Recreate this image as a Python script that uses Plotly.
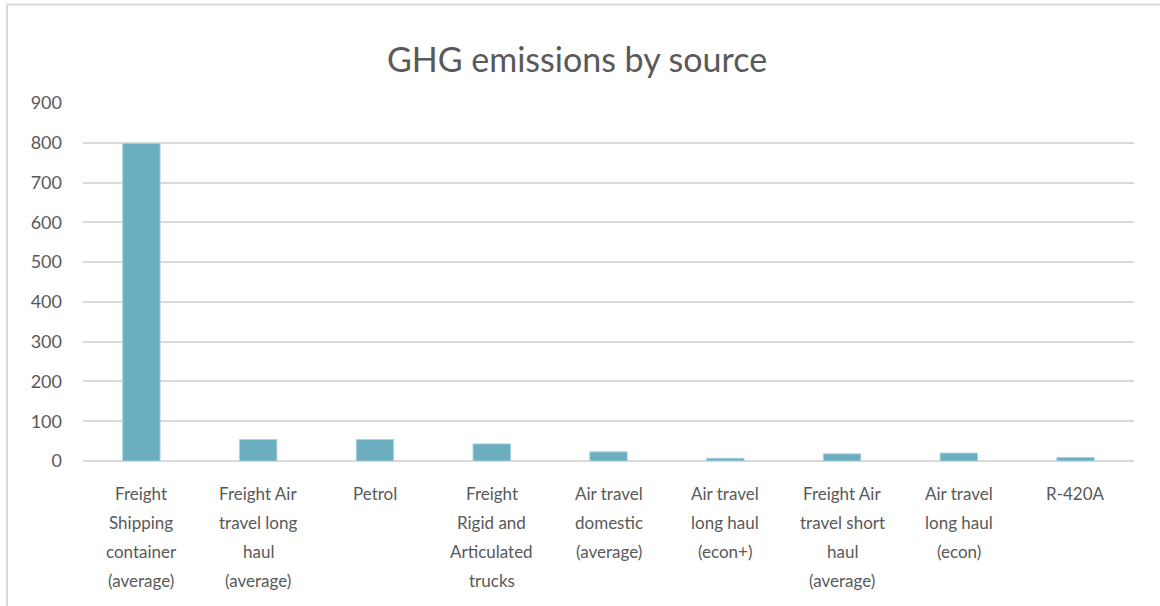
import plotly.graph_objects as go

categories = [
    "Freight<br>Shipping<br>container<br>(average)",
    "Freight Air<br>travel long<br>haul<br>(average)",
    "Petrol",
    "Freight<br>Rigid and<br>Articulated<br>trucks",
    "Air travel<br>domestic<br>(average)",
    "Air travel<br>long haul<br>(econ+)",
    "Freight Air<br>travel short<br>haul<br>(average)",
    "Air travel<br>long haul<br>(econ)",
    "R-420A",
]
values = [798, 54, 54, 43, 23, 7, 18, 20, 9]
y_ticks = [0, 100, 200, 300, 400, 500, 600, 700, 800, 900]

FONT = "Lato"
TXT = "#595959"
GRID = "#d9d9d9"

W, H = 1160, 606

fig = go.Figure(go.Bar(
    x=list(range(len(categories))),
    y=values,
    marker=dict(color="#6aaec0", line=dict(color="#a9d2dd", width=1)),
    hoverinfo="skip",
))

# category labels: one annotation per line, anchored on each category position
annotations = []
for i, cat in enumerate(categories):
    for j, line in enumerate(cat.split("<br>")):
        annotations.append(dict(
            x=i, xref="x", y=0, yref="paper", yanchor="middle",
            yshift=-(32 + 29 * j), text=line, showarrow=False,
            font=dict(family=FONT, size=17, color=TXT),
        ))

fig.update_layout(
    width=W, height=H,
    margin=dict(l=83, r=26, t=103, b=145),
    paper_bgcolor="white", plot_bgcolor="white",
    title=dict(text="GHG emissions by source", x=577 / W, xanchor="center",
               y=1 - 60 / H, yanchor="middle",
               font=dict(family=FONT, size=34, color=TXT)),
    bargap=0.68,
    showlegend=False,
    annotations=annotations,
    xaxis=dict(range=[-0.5, len(categories) - 0.5], showticklabels=False,
               showgrid=False, zeroline=False, showline=False, ticks=""),
    yaxis=dict(range=[0, 900], tickvals=y_ticks, showgrid=True, gridcolor=GRID,
               gridwidth=1.5, zeroline=True, zerolinecolor=GRID, zerolinewidth=2,
               showline=False, ticks="", ticklabelstandoff=20,
               tickfont=dict(family=FONT, size=18, color=TXT)),
    shapes=[dict(type="rect", xref="paper", yref="paper",
                 x0=-0.0723, x1=1.2, y0=-0.6, y1=1.2754,
                 line=dict(color=GRID, width=2), fillcolor="rgba(0,0,0,0)",
                 layer="below")],
)

fig.write_html("out.html",
               config={"displayModeBar": False},
               post_script="document.body.style.margin='0px';document.body.style.overflow='hidden';")
